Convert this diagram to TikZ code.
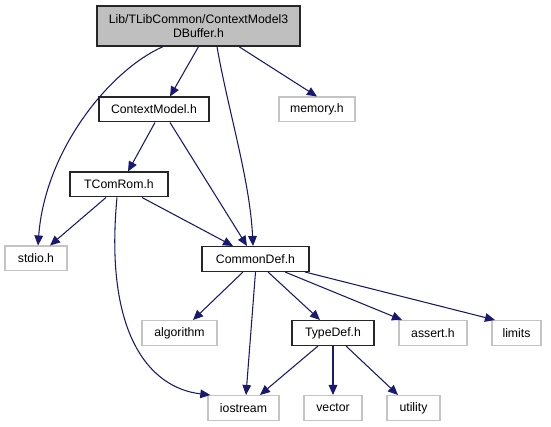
\documentclass[tikz,border=0pt]{standalone}
\usepackage{fontspec}
\setmainfont{Liberation Sans}
\usetikzlibrary{arrows.meta, positioning, calc}
\definecolor{EdgeBlue}{RGB}{25, 25, 112}
\definecolor{RootGray}{RGB}{191, 191, 191}
\definecolor{ExtGray}{RGB}{196, 196, 196}

\begin{document}
\begin{tikzpicture}[x=0.75pt, y=-0.75pt, font=\fontsize{9.2}{11}\selectfont,
  file/.style={draw=black!85, line width=1pt, inner sep=0pt, minimum height=18.5pt},
  ext/.style={draw=ExtGray, line width=1pt, inner sep=0pt, minimum height=18.5pt},
  dep/.style={draw=EdgeBlue, line width=0.8pt, -{Triangle[length=7.5pt, width=6.5pt]}}]
\useasboundingbox (0,0) rectangle (551,427);
% include graph
\node[file, fill=RootGray, align=center, minimum width=152.3pt, minimum height=30pt]
  (root) at (198.5,26) {Lib/TLibCommon/ContextModel3\\DBuffer.h};
\node[file, minimum width=82.5pt] (ctxmodel) at (154,109.5) {ContextModel.h};
\node[ext, minimum width=57pt] (memory) at (317,109.5) {memory.h};
\node[file, minimum width=73.5pt] (tcomrom) at (119,184.5) {TComRom.h};
\node[ext, minimum width=46.5pt] (stdio) at (36,258.5) {stdio.h};
\node[file, minimum width=80.3pt] (commondef) at (255.5,259) {CommonDef.h};
\node[ext, minimum width=56.3pt] (algorithm) at (179.5,333) {algorithm};
\node[file, minimum width=61.5pt] (typedef) at (333,333) {TypeDef.h};
\node[ext, minimum width=51pt] (assert) at (433,333) {assert.h};
\node[ext, minimum width=36.8pt] (limits) at (516.5,333) {limits};
\node[ext, minimum width=53.3pt] (iostream) at (243.5,408) {iostream};
\node[ext, minimum width=43.5pt] (vector) at (333,408) {vector};
\node[ext, minimum width=39.8pt] (utility) at (413.5,408) {utility};
% straight edges
\foreach \a/\sa/\b/\sb in {root/0/ctxmodel/16, root/40.5/memory/0,
    ctxmodel/1/tcomrom/9, ctxmodel/16/commondef/-8.5,
    tcomrom/-13/stdio/14, tcomrom/23/commondef/-22.5,
    commondef/-12.5/algorithm/13.5, commondef/0/iostream/2.5,
    commondef/12.5/typedef/-13, commondef/29.5/assert/-31,
    commondef/49.5/limits/-21.5,
    typedef/-15/iostream/16.5, typedef/0/vector/0, typedef/13/utility/-15.5} {
  \draw[dep] ($(\a.south)+(\sa,0)$) -- ($(\b.north)+(\sb,0)$);
}
% curved edges
\draw[dep] ($(root.south)+(-35.5,0)$) .. controls (110,70) and (45,150) .. ($(stdio.north)+(2,0)$);
\draw[dep] ($(root.south)+(18.5,0)$) .. controls (228,110) and (250,180) .. ($(commondef.north)+(-2.5,0)$);
\draw[dep] ($(tcomrom.south)+(-2,0)$) .. controls (104,335) and (150,388) .. ($(iostream.north west)+(3,0)$);
\end{tikzpicture}
\end{document}
